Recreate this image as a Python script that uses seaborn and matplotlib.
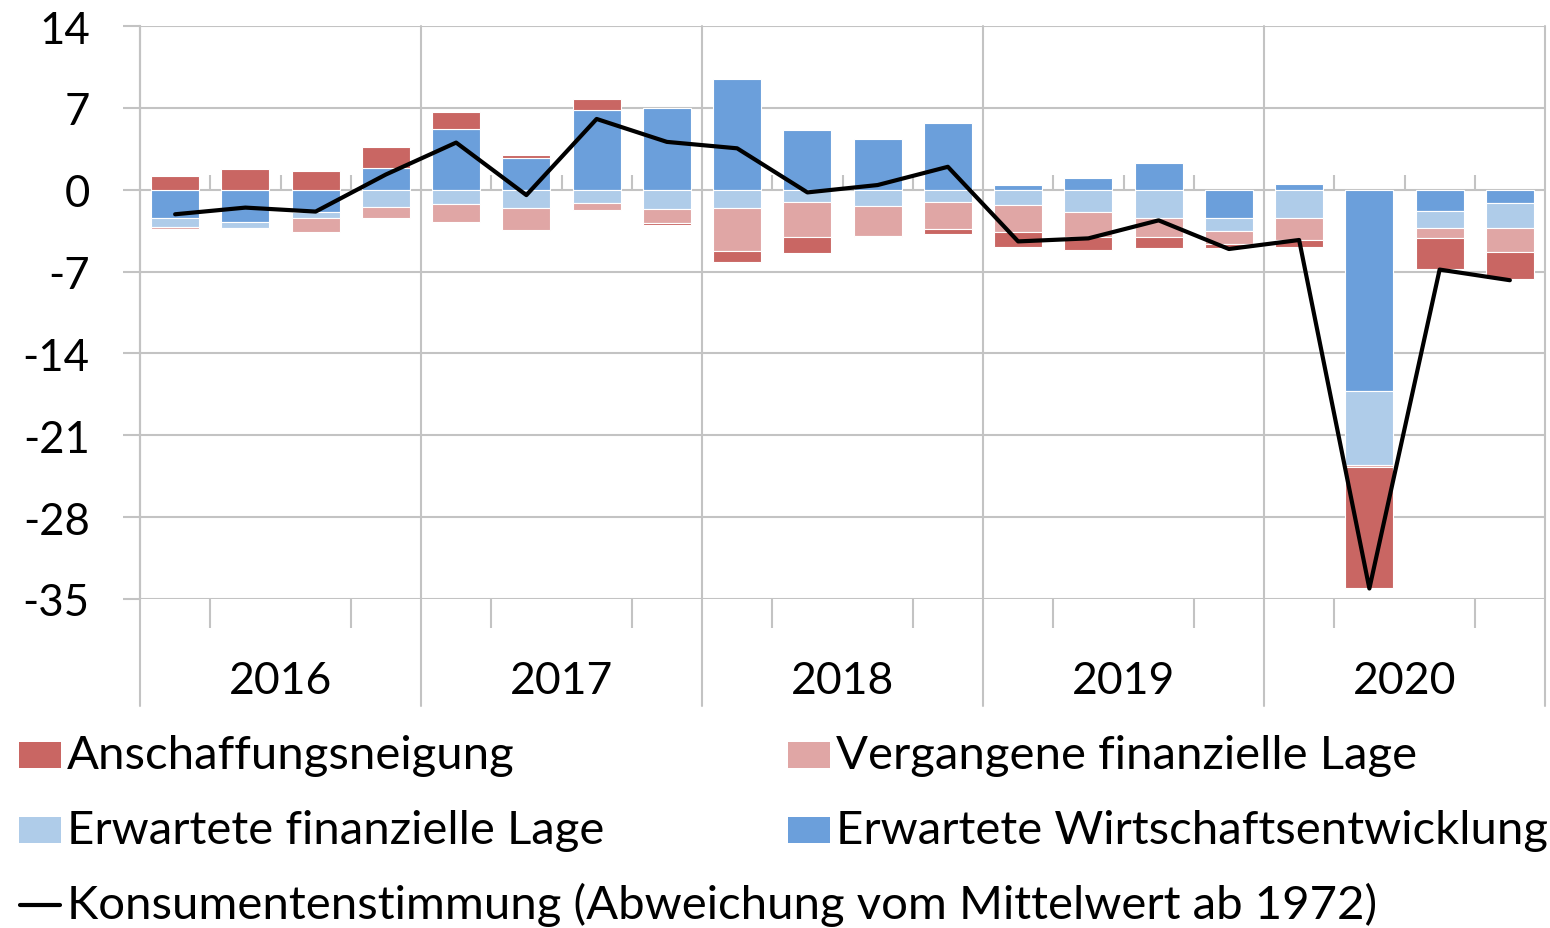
import numpy as np
import pandas as pd
import matplotlib
matplotlib.use("Agg")
import matplotlib.pyplot as plt
import matplotlib.transforms as mtransforms
from matplotlib.patches import Rectangle
from matplotlib.lines import Line2D
import seaborn as sns

# ---------------- data ----------------
years = ["2016", "2017", "2018", "2019", "2020"]
quarters = [f"{y}Q{q}" for y in years for q in range(1, 5)]

anschaffung = [1.21, 1.73, 1.64, 1.79, 1.50, 0.26, 0.92, -0.14, -0.86, -1.35,
               -0.05, -0.40, -1.22, -1.05, -0.94, -0.37, -0.60, -10.33, -2.59, -2.33]
vergangene = [-0.12, -0.10, -1.24, -0.89, -1.56, -1.87, -0.66, -1.27, -3.75, -3.05,
              -2.65, -2.33, -2.36, -2.14, -1.60, -1.08, -1.85, -0.17, -0.88, -2.02]
erw_fin = [-0.84, -0.52, -0.49, -1.50, -1.18, -1.58, -1.10, -1.61, -1.53, -1.01,
           -1.35, -1.07, -1.28, -1.94, -2.42, -1.14, -2.45, -6.34, -1.48, -2.10]
erw_wirt = [-2.39, -2.77, -1.90, 1.82, 5.16, 2.71, 6.83, 7.00, 9.51, 5.13,
            4.32, 5.68, 0.43, 0.97, 2.28, -2.42, 0.48, -17.20, -1.79, -1.17]
konsum = [-2.10, -1.53, -1.87, 1.30, 4.03, -0.46, 6.05, 4.09, 3.54, -0.23,
          0.40, 1.96, -4.42, -4.16, -2.62, -5.07, -4.30, -34.10, -6.83, -7.74]

series_names = ["Anschaffungsneigung", "Vergangene finanzielle Lage",
                "Erwartete finanzielle Lage", "Erwartete Wirtschaftsentwicklung"]
line_name = "Konsumentenstimmung (Abweichung vom Mittelwert ab 1972)"
yticks = [14, 7, 0, -7, -14, -21, -28, -35]

colors = {
    "Anschaffungsneigung": "#C96663",
    "Vergangene finanzielle Lage": "#E0A6A5",
    "Erwartete finanzielle Lage": "#AFCCE9",
    "Erwartete Wirtschaftsentwicklung": "#6B9FDB",
}

# ---------------- figure ----------------
sns.set_style("white")
plt.rcParams["font.family"] = ["Lato", "DejaVu Sans"]

W, H = 1550, 929
fig = plt.figure(figsize=(W / 100, H / 100), dpi=100)
ax_l, ax_r, ax_t, ax_b = 140, 1545, 27, 600
ax = fig.add_axes([ax_l / W, 1 - ax_b / H, (ax_r - ax_l) / W, (ax_b - ax_t) / H])

grid_c = "#C3C3C3"
n = len(quarters)
x = np.arange(n)

# stacking order from zero outward
stack_order = ["Erwartete Wirtschaftsentwicklung", "Erwartete finanzielle Lage",
               "Vergangene finanzielle Lage", "Anschaffungsneigung"]
values = {
    "Anschaffungsneigung": np.array(anschaffung),
    "Vergangene finanzielle Lage": np.array(vergangene),
    "Erwartete finanzielle Lage": np.array(erw_fin),
    "Erwartete Wirtschaftsentwicklung": np.array(erw_wirt),
}
pos_cum = np.zeros(n)
neg_cum = np.zeros(n)
for name in stack_order:
    v = values[name]
    bottom = np.where(v >= 0, pos_cum, neg_cum)
    df = pd.DataFrame({"x": x, "v": v})
    sns.barplot(data=df, x="x", y="v", native_scale=True, width=0.685,
                color=colors[name], saturation=1, bottom=bottom,
                edgecolor="white", linewidth=0.8, errorbar=None, ax=ax, zorder=3)
    pos_cum = pos_cum + np.where(v >= 0, v, 0)
    neg_cum = neg_cum + np.where(v < 0, v, 0)

sns.lineplot(x=x, y=konsum, color="black", linewidth=3.0, ax=ax, zorder=5)

# ---------------- axes styling ----------------
ax.set_xlim(-0.5, n - 0.5)
ax.set_ylim(-35, 14)
ax.set_xlabel("")
ax.set_ylabel("")
ax.set_yticks(yticks)
ax.set_yticklabels([str(t) for t in yticks])
ax.yaxis.grid(True, color=grid_c, linewidth=1.5, zorder=0)
ax.xaxis.grid(False)
ax.set_axisbelow(True)
for s in ["top", "right", "bottom"]:
    ax.spines[s].set_visible(False)
ax.spines["left"].set_color(grid_c)
ax.spines["left"].set_linewidth(1.5)
ax.tick_params(axis="y", length=12.2, width=1.5, color=grid_c, pad=24,
               labelsize=31.5, labelcolor="black", direction="out", left=True)

# x axis: quarter ticks at bottom, year labels
boundaries = np.arange(-0.5, n, 1.0)
inner = [b for b in boundaries if (b + 0.5) % 4 != 0]
ax.set_xticks([1.5, 5.5, 9.5, 13.5, 17.5])
ax.set_xticklabels([])
ax.tick_params(axis="x", which="major", length=0, bottom=False)
ax.set_xticks(inner, minor=True)
ax.tick_params(axis="x", which="minor", length=21, width=1.5, color=grid_c,
               direction="out", bottom=True)

# small ticks at the zero line
sec = ax.secondary_xaxis(35 / 49)
sec.set_xticks(inner)
sec.set_xticklabels([])
sec.tick_params(axis="x", length=10.5, width=1.5, color=grid_c, direction="out")
sec.spines["bottom"].set_visible(False)
sec.spines["top"].set_visible(False)

# year separators (vertical lines through plot and category area)
ext = (707 - ax_b) / (ax_b - ax_t)
for b in boundaries:
    if (b + 0.5) % 4 == 0:
        ax.axvline(b, ymin=-ext, ymax=1, color=grid_c, linewidth=1.5,
                   clip_on=False, zorder=1)

trans = mtransforms.blended_transform_factory(ax.transData, ax.transAxes)
base_y = -(694 - ax_b) / (ax_b - ax_t)
for i, yr in enumerate(years):
    ax.text(4 * i + 1.5, base_y, yr, transform=trans, ha="center",
            va="baseline", fontsize=32, color="black")

# ---------------- legend (manual) ----------------
def fx(px):
    return px / W


def fy(py):
    return 1 - py / H


leg_fs = 34
leg = [
    ("Anschaffungsneigung", 19, 67, 769),
    ("Vergangene finanzielle Lage", 788, 836, 769),
    ("Erwartete finanzielle Lage", 19, 67, 844),
    ("Erwartete Wirtschaftsentwicklung", 788, 836, 844),
]
for name, sx, tx, base in leg:
    fig.patches.append(Rectangle((fx(sx), fy(base)), 42 / W, 26 / H,
                                 transform=fig.transFigure,
                                 facecolor=colors[name], edgecolor="none"))
    fig.text(fx(tx), fy(base), name, ha="left", va="baseline",
             fontsize=leg_fs, color="black")

fig.lines.append(Line2D([fx(20), fx(60)], [fy(906), fy(906)],
                        transform=fig.transFigure, color="black", linewidth=3.0))
fig.text(fx(67), fy(919), line_name, ha="left", va="baseline",
         fontsize=leg_fs, color="black")

fig.savefig("out.png", dpi=100, facecolor="white")
